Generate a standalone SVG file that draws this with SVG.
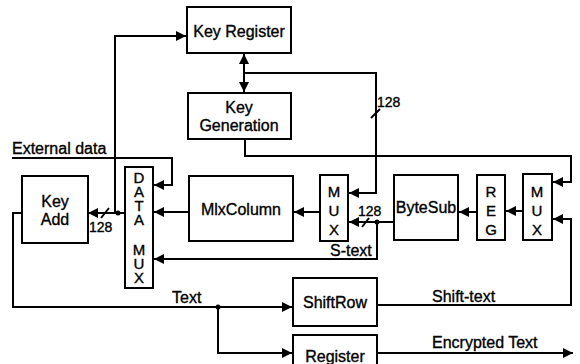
<svg xmlns="http://www.w3.org/2000/svg" width="580" height="364" viewBox="0 0 580 364">
<defs>
<style>
.box{fill:#fff;stroke:#000;stroke-width:2}
.ln{fill:none;stroke:#000;stroke-width:2}
text{font-family:"Liberation Sans",Arial,sans-serif;font-size:16px;fill:#000;stroke:#000;stroke-width:0.35}
.c{text-anchor:middle}
.s{font-size:14px}
.vt{font-size:15px;writing-mode:vertical-rl;text-orientation:upright}
.d{letter-spacing:-3px}
.m{letter-spacing:2px}
</style>
<marker id="ah" viewBox="0 0 10 10" refX="10" refY="5" markerWidth="5.5" markerHeight="5" orient="auto" markerUnits="strokeWidth">
<path d="M0,0 L10,5 L0,10 z" fill="#000"/>
</marker>
<marker id="ahs" viewBox="0 0 10 10" refX="10" refY="5" markerWidth="5.5" markerHeight="5" orient="auto-start-reverse" markerUnits="strokeWidth">
<path d="M0,0 L10,5 L0,10 z" fill="#000"/>
</marker>
</defs>
<rect width="580" height="364" fill="#fff"/>

<g id="connectors">
<line class="ln" x1="244" y1="54" x2="244" y2="92" marker-start="url(#ahs)" marker-end="url(#ahs)"/>
<polyline class="ln" points="244,73 376,73 376,193 349,193" marker-end="url(#ah)"/>
<line class="ln" x1="371" y1="118" x2="380" y2="109"/>
<polyline class="ln" points="245,139 245,156 571,156 571,182 553,182" marker-end="url(#ah)"/>
<polyline class="ln" points="12,158 172,158 172,185 154,185" marker-end="url(#ah)"/>
<line class="ln" x1="125" y1="213" x2="88" y2="213" marker-end="url(#ah)"/>
<line class="ln" x1="101" y1="218" x2="109" y2="208"/>
<circle cx="118" cy="213" r="2.5"/>
<polyline class="ln" points="115,213 115,36 186,36" marker-end="url(#ah)"/>
<line class="ln" x1="189" y1="212" x2="154" y2="212" marker-end="url(#ah)"/>
<line class="ln" x1="320" y1="212" x2="294" y2="212" marker-end="url(#ah)"/>
<line class="ln" x1="394" y1="222" x2="349" y2="222" marker-end="url(#ah)"/>
<line class="ln" x1="362" y1="227" x2="369" y2="218"/>
<circle cx="377" cy="222" r="2.5"/>
<polyline class="ln" points="377,222 377,259 154,259" marker-end="url(#ah)"/>
<line class="ln" x1="477" y1="212" x2="459" y2="212" marker-end="url(#ah)"/>
<line class="ln" x1="523" y1="211" x2="506" y2="211" marker-end="url(#ah)"/>
<polyline class="ln" points="377,305 571,305 571,219 553,219" marker-end="url(#ah)"/>
<polyline class="ln" points="22,213 13,213 13,307 292,307" marker-end="url(#ah)"/>
<circle cx="218" cy="307" r="2.5"/>
<polyline class="ln" points="218,307 218,353 292,353" marker-end="url(#ah)"/>
<line class="ln" x1="377" y1="353" x2="573" y2="353" marker-end="url(#ah)"/>
</g>

<g id="key-register">
<rect class="box" x="187" y="7" width="104" height="46"/>
<text class="c" x="239" y="37">Key Register</text>
</g>
<g id="key-generation">
<rect class="box" x="188" y="93" width="103" height="46"/>
<text class="c" x="239" y="113">Key</text>
<text class="c" x="239" y="131">Generation</text>
</g>
<g id="key-add">
<rect class="box" x="22" y="176" width="66" height="67"/>
<text class="c" x="55" y="207">Key</text>
<text class="c" x="55" y="225">Add</text>
</g>
<g id="data-mux">
<rect class="box" x="125" y="167" width="28" height="121"/>
<text class="vt d" x="139" y="169">DATA</text>
<text class="vt d" x="139" y="241">MUX</text>
</g>
<g id="mixcolumn">
<rect class="box" x="189" y="176" width="104" height="65"/>
<text class="c" x="241" y="215">MlxColumn</text>
</g>
<g id="mux-mid">
<rect class="box" x="320" y="175" width="28" height="66"/>
<text class="vt m" x="334" y="183">MUX</text>
</g>
<g id="bytesub">
<rect class="box" x="394" y="175" width="64" height="65"/>
<text class="c" x="426" y="213">ByteSub</text>
</g>
<g id="reg">
<rect class="box" x="477" y="175" width="28" height="65"/>
<text class="vt m" x="491" y="183">REG</text>
</g>
<g id="mux-right">
<rect class="box" x="523" y="174" width="29" height="66"/>
<text class="vt m" x="537" y="183">MUX</text>
</g>
<g id="shiftrow">
<rect class="box" x="293" y="278" width="84" height="48"/>
<text class="c" x="335" y="308">ShiftRow</text>
</g>
<g id="register">
<rect class="box" x="293" y="335" width="84" height="40"/>
<text class="c" x="335" y="362">Register</text>
</g>

<g id="labels">
<text x="12" y="154">External data</text>
<text class="s" x="377" y="107">128</text>
<text class="s" x="358" y="216">128</text>
<text class="s" x="89" y="232">128</text>
<text x="330" y="256">S-text</text>
<text x="172" y="303">Text</text>
<text x="432" y="302">Shift-text</text>
<text x="432" y="348">Encrypted Text</text>
</g>
</svg>
